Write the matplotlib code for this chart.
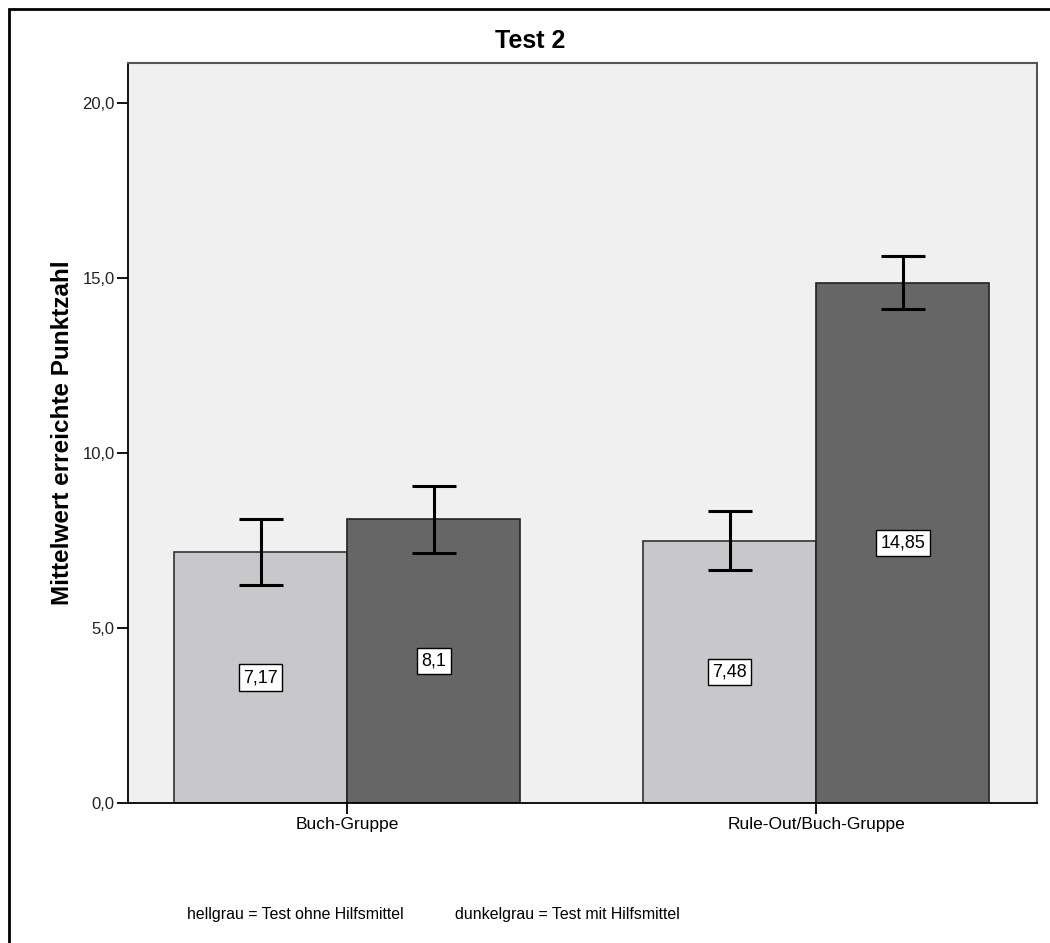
import matplotlib
matplotlib.use("Agg")
from matplotlib import pyplot as plt
from matplotlib import font_manager
from matplotlib.patches import Rectangle
import numpy as np

plt.rcParams['font.family'] = ['Liberation Sans', 'DejaVu Sans']

groups = ['Buch-Gruppe', 'Rule-Out/Buch-Gruppe']
ohne = [7.17, 7.48]          # hellgrau
mit = [8.1, 14.85]           # dunkelgrau
ohne_lo = [6.23, 6.66]
ohne_hi = [8.11, 8.35]
mit_lo = [7.15, 14.12]
mit_hi = [9.05, 15.62]
yticks = [0, 5, 10, 15, 20]
ytick_labels = ['0,0', '5,0', '10,0', '15,0', '20,0']

# narrow font for the footer, if there is one
try:
    font_manager.findfont('Liberation Sans Narrow', fallback_to_default=False)
    foot_family, foot_size = ['Liberation Sans Narrow', 'Liberation Sans'], 14
except Exception:
    foot_family, foot_size = ['Liberation Sans', 'DejaVu Sans'], 11.4

fig = plt.figure(figsize=(10.5, 9.43), dpi=100)
ax = fig.add_axes([128/1050, 1 - 803/943, (1037 - 128)/1050, (803 - 63)/943])
ax.set_facecolor('#f0f0f0')

x = np.arange(len(groups))
w = 0.369
light = '#c8c8ca'
dark = '#666666'

ax.bar(x - w/2, ohne, w, color=light, edgecolor='#333333', linewidth=1.2, zorder=2)
ax.bar(x + w/2, mit, w, color=dark, edgecolor='#222222', linewidth=1.2, zorder=2)

for xs, vals, lo, hi in [(x - w/2, ohne, ohne_lo, ohne_hi), (x + w/2, mit, mit_lo, mit_hi)]:
    err = [np.array(vals) - np.array(lo), np.array(hi) - np.array(vals)]
    ax.errorbar(xs, vals, yerr=err, fmt='none', ecolor='black', elinewidth=2.2,
                capsize=15.5, capthick=2.2, zorder=3)
    for xi, v in zip(xs, vals):
        ax.text(xi, v / 2, ('%g' % v).replace('.', ','), ha='center', va='center',
                fontsize=13, zorder=4,
                bbox=dict(boxstyle='square,pad=0.25', facecolor='white', edgecolor='black', linewidth=1))

ax.set_xlim(-0.467, 1.471)
ax.set_ylim(0, 21.14)
ax.set_yticks(yticks)
ax.set_yticklabels(ytick_labels, fontsize=12, color='#222222')
ax.set_xticks(x)
ax.set_xticklabels(groups, fontsize=12.5)
ax.tick_params(axis='y', length=8, width=1.3, pad=1.5)
ax.tick_params(axis='x', length=8, width=1.3, pad=2)

for side in ['left', 'bottom']:
    ax.spines[side].set_linewidth(1.3)
    ax.spines[side].set_color('black')
for side in ['top', 'right']:
    ax.spines[side].set_linewidth(1.5)
    ax.spines[side].set_color('#555555')

fig.text(530/1050, 1 - 48/943, 'Test 2', fontsize=18, fontweight='bold', ha='center', va='baseline')
ax.set_ylabel('Mittelwert erreichte Punktzahl', fontsize=17.5, fontweight='bold', labelpad=6)

fig.text(187/1050, 1 - 915/943, 'hellgrau = Test ohne Hilfsmittel', family=foot_family,
         fontsize=foot_size, va='center')
fig.text(455/1050, 1 - 915/943, 'dunkelgrau = Test mit Hilfsmittel', family=foot_family,
         fontsize=foot_size, va='center')

# outer chart frame
fig.patches.append(Rectangle((9/1050, -0.05), 1.1, 1.05 - 9/943, transform=fig.transFigure,
                             fill=False, edgecolor='black', linewidth=2))

fig.savefig('out.png', dpi=100)
